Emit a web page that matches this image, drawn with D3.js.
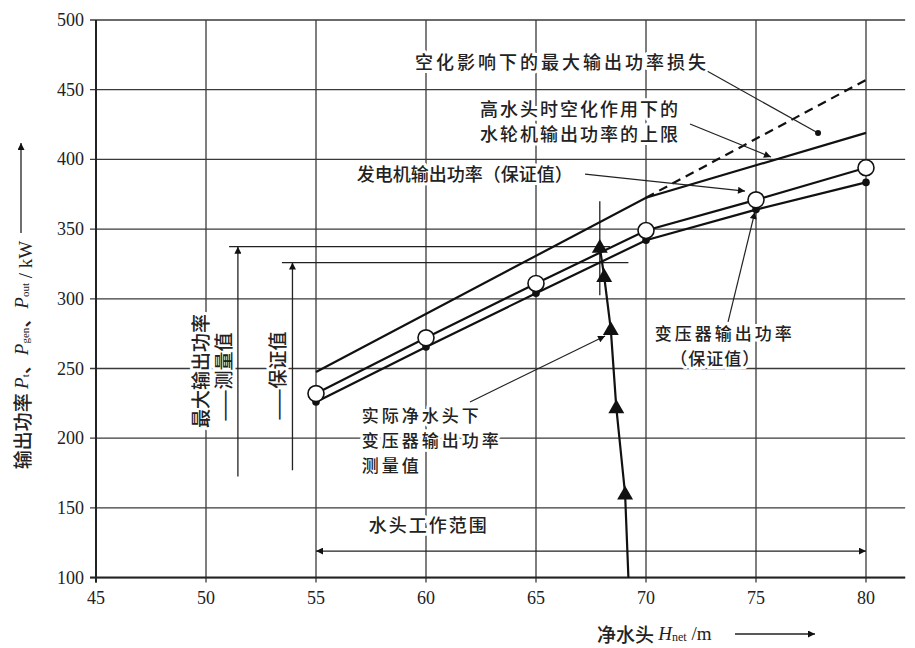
<!DOCTYPE html>
<html>
<head>
<meta charset="utf-8">
<script src="https://cdn.jsdelivr.net/npm/d3@7"></script>
<style>
  body { margin: 0; background: #fff; }
  svg { display: block; }
  .cn { font-family: "Noto Sans CJK SC", sans-serif; font-weight: 500; }
  .num { font-family: "Liberation Serif", "DejaVu Serif", serif; }
</style>
</head>
<body>
<div id="chart"></div>
<script>
// values
var heads = [55, 60, 65, 70, 75, 80];
var genGuaranteed = [232, 272, 311, 349, 371, 394];
var trafoGuaranteed = [226, 265.5, 304, 342, 364, 383.5];
var limitHeads = [55, 70, 80];
var turbineLimit = [247.5, 372.5, 419];
var lossHeads = [70, 80];
var lossLimit = [372.5, 457];
var measuredHeads = [67.9, 68.1, 68.4, 68.65, 69.05, 69.2];
var measuredOut = [337, 316, 278, 222, 160, 100];
var maxMeasured = 337.4;
var guaranteed = 326;
var xTicks = [45, 50, 55, 60, 65, 70, 75, 80];
var yTicks = [100, 150, 200, 250, 300, 350, 400, 450, 500];

var width = 915, height = 648;

var svg = d3.select("#chart").append("svg")
    .attr("width", width)
    .attr("height", height);

var x = d3.scaleLinear().domain([45, 80]).range([96, 866]);
var y = d3.scaleLinear().domain([100, 500]).range([577.6, 20]);
var xEnd = x(81.78);

var defs = svg.append("defs");
defs.append("marker")
    .attr("id", "arr")
    .attr("viewBox", "0 0 10 10")
    .attr("refX", 10).attr("refY", 5)
    .attr("markerWidth", 12).attr("markerHeight", 7)
    .attr("markerUnits", "userSpaceOnUse")
    .attr("orient", "auto-start-reverse")
  .append("path")
    .attr("d", "M0,0L10,5L0,10Z")
    .attr("fill", "#111");

// grid
var grid = svg.append("g").attr("stroke", "#3a3a3a").attr("stroke-width", 1.3);
grid.selectAll(".vg").data(xTicks).enter().append("line")
    .attr("x1", function(d) { return x(d); })
    .attr("x2", function(d) { return x(d); })
    .attr("y1", y(500))
    .attr("y2", y(100) + 5);
grid.selectAll(".hg").data(yTicks).enter().append("line")
    .attr("x1", x(45) - 6)
    .attr("x2", xEnd)
    .attr("y1", function(d) { return y(d); })
    .attr("y2", function(d) { return y(d); });
svg.append("line").attr("x1", x(45)).attr("x2", x(45)).attr("y1", y(500)).attr("y2", y(100) + 5)
    .attr("stroke", "#222").attr("stroke-width", 2);
svg.append("line").attr("x1", x(45) - 6).attr("x2", xEnd).attr("y1", y(100)).attr("y2", y(100))
    .attr("stroke", "#222").attr("stroke-width", 2);

// tick labels
svg.selectAll(".yl").data(yTicks).enter().append("text")
    .attr("class", "num")
    .attr("x", x(45) - 12)
    .attr("y", function(d) { return y(d) + 6; })
    .attr("text-anchor", "end")
    .attr("font-size", 18)
    .attr("fill", "#222")
    .text(function(d) { return d; });
svg.selectAll(".xl").data(xTicks).enter().append("text")
    .attr("class", "num")
    .attr("x", function(d) { return x(d); })
    .attr("y", y(100) + 26)
    .attr("text-anchor", "middle")
    .attr("font-size", 18)
    .attr("fill", "#222")
    .text(function(d) { return d; });

function halo(sel) {
  return sel.attr("stroke", "#fff").attr("stroke-width", 6)
    .attr("stroke-linejoin", "round").attr("paint-order", "stroke");
}

// reference lines for max measured and guaranteed output
var ref = svg.append("g").attr("stroke", "#222").attr("stroke-width", 1.3);
ref.append("line").attr("x1", x(51.05)).attr("x2", x(68.36))
    .attr("y1", y(maxMeasured)).attr("y2", y(maxMeasured));
ref.append("line").attr("x1", x(53.45)).attr("x2", x(69.2))
    .attr("y1", y(guaranteed)).attr("y2", y(guaranteed));
ref.append("line").attr("x1", x(51.45)).attr("x2", x(51.45))
    .attr("y1", y(172.5)).attr("y2", y(maxMeasured))
    .attr("marker-end", "url(#arr)");
ref.append("line").attr("x1", x(53.93)).attr("x2", x(53.93))
    .attr("y1", y(177)).attr("y2", y(guaranteed))
    .attr("marker-end", "url(#arr)");
ref.append("line").attr("x1", x(67.9)).attr("x2", x(67.9))
    .attr("y1", y(370)).attr("y2", y(302.5));

// work range
svg.append("line")
    .attr("x1", x(55)).attr("x2", x(80))
    .attr("y1", y(119)).attr("y2", y(119))
    .attr("stroke", "#222").attr("stroke-width", 1.3)
    .attr("marker-start", "url(#arr)")
    .attr("marker-end", "url(#arr)");

// rotated labels on the left
function vtext(cx, cy, str) {
  halo(svg.append("text")
    .attr("class", "cn")
    .attr("transform", "translate(" + cx + "," + cy + ") rotate(-90)")
    .attr("text-anchor", "middle")
    .attr("dominant-baseline", "central")
    .attr("font-size", 19)
    .attr("fill", "#222"))
    .text(str);
}
vtext(199, 371, "最大输出功率");
vtext(222, 377, "——测量值");
vtext(276, 376, "——保证值");

// curves
var line = d3.line()
    .x(function(d) { return x(d[0]); })
    .y(function(d) { return y(d[1]); });

var curves = svg.append("g").attr("fill", "none").attr("stroke", "#111").attr("stroke-width", 2.2);
curves.append("path").attr("d", line(d3.zip(limitHeads, turbineLimit)));
curves.append("path").attr("d", line(d3.zip(lossHeads, lossLimit)))
    .attr("stroke-dasharray", "9,6");
curves.append("path").attr("d", line(d3.zip(heads, genGuaranteed)));
curves.append("path").attr("d", line(d3.zip(heads, trafoGuaranteed)));
curves.append("path").attr("d", line(d3.zip(measuredHeads, measuredOut)));

svg.selectAll(".dot").data(d3.zip(heads, trafoGuaranteed)).enter().append("circle")
    .attr("cx", function(d) { return x(d[0]); })
    .attr("cy", function(d) { return y(d[1]); })
    .attr("r", 3.8)
    .attr("fill", "#111");
svg.selectAll(".ring").data(d3.zip(heads, genGuaranteed)).enter().append("circle")
    .attr("cx", function(d) { return x(d[0]); })
    .attr("cy", function(d) { return y(d[1]); })
    .attr("r", 8)
    .attr("fill", "#fff")
    .attr("stroke", "#111")
    .attr("stroke-width", 1.6);
var tri = d3.symbol().type(d3.symbolTriangle).size(110);
svg.selectAll(".tri").data(d3.zip(measuredHeads, measuredOut).slice(0, 5)).enter().append("path")
    .attr("d", tri)
    .attr("transform", function(d) { return "translate(" + x(d[0]) + "," + (y(d[1]) + 1) + ")"; })
    .attr("fill", "#111");

// annotations
var leaders = [
  {from: [72.45, 466.3], to: [77.82, 418.9], dot: true},
  {from: [72.0, 425.4], to: [75.68, 401.7]},
  {from: [67.23, 389.5], to: [74.5, 377.3]},
  {from: [73.73, 283.4], to: [74.95, 362.3]},
  {from: [62.0, 226], to: [68.14, 273.3]}
];
leaders.forEach(function(l) {
  var s = svg.append("line")
    .attr("x1", x(l.from[0])).attr("y1", y(l.from[1]))
    .attr("x2", x(l.to[0])).attr("y2", y(l.to[1]))
    .attr("stroke", "#222").attr("stroke-width", 1.2);
  if (l.dot) {
    svg.append("circle").attr("cx", x(l.to[0])).attr("cy", y(l.to[1]))
      .attr("r", 3).attr("fill", "#111");
  } else {
    s.attr("marker-end", "url(#arr)");
  }
});

var notes = [
  {t: "空化影响下的最大输出功率损失", at: [59.5, 470.5], a: "start", ls: 3, fs: 18},
  {t: "高水头时空化作用下的", at: [62.45, 437], a: "start", ls: 2, fs: 18},
  {t: "水轮机输出功率的上限", at: [62.45, 419], a: "start", ls: 2, fs: 18},
  {t: "发电机输出功率（保证值）", at: [56.85, 390], a: "start", ls: 0, fs: 18},
  {t: "变压器输出功率", at: [70.4, 276], a: "start", ls: 3, fs: 17},
  {t: "（保证值）", at: [73.15, 258], a: "middle", ls: 1, fs: 17},
  {t: "实际净水头下", at: [57.08, 216.8], a: "start", ls: 3, fs: 17},
  {t: "变压器输出功率", at: [57.08, 198.8], a: "start", ls: 3, fs: 17},
  {t: "测量值", at: [57.08, 180.8], a: "start", ls: 3, fs: 17},
  {t: "水头工作范围", at: [57.4, 138.5], a: "start", ls: 2, fs: 18}
];
notes.forEach(function(n) {
  halo(svg.append("text")
    .attr("class", "cn")
    .attr("x", x(n.at[0]))
    .attr("y", y(n.at[1]))
    .attr("dominant-baseline", "central")
    .attr("text-anchor", n.a)
    .attr("font-size", n.fs)
    .attr("letter-spacing", n.ls)
    .attr("fill", "#222"))
    .text(n.t);
});

// y axis title
var yt = svg.append("text")
    .attr("transform", "translate(21,355) rotate(-90)")
    .attr("text-anchor", "middle")
    .attr("dominant-baseline", "central")
    .attr("font-size", 19)
    .attr("fill", "#222");
yt.append("tspan").attr("class", "cn").text("输出功率 ");
[["t", "、"], ["gen", "、"], ["out", ""]].forEach(function(p) {
  yt.append("tspan").attr("class", "num").attr("font-style", "italic").text("P");
  yt.append("tspan").attr("class", "num").attr("font-size", 11).attr("dy", 4).text(p[0]);
  yt.append("tspan").attr("class", "cn").attr("dy", -4).text(p[1]);
});
yt.append("tspan").attr("class", "num").text(" / kW");
svg.append("line").attr("x1", 21).attr("x2", 21).attr("y1", 233).attr("y2", 143)
    .attr("stroke", "#222").attr("stroke-width", 1.3).attr("marker-end", "url(#arr)");

// x axis title
var xt = svg.append("text")
    .attr("x", 597).attr("y", 633)
    .attr("dominant-baseline", "central")
    .attr("font-size", 19)
    .attr("fill", "#222");
xt.append("tspan").attr("class", "cn").text("净水头 ");
xt.append("tspan").attr("class", "num").attr("font-style", "italic").text("H");
xt.append("tspan").attr("class", "num").attr("font-size", 12).attr("dy", 4).text("net");
xt.append("tspan").attr("class", "num").attr("dy", -4).text(" /m");
svg.append("line").attr("x1", 735).attr("x2", 815).attr("y1", 634).attr("y2", 634)
    .attr("stroke", "#222").attr("stroke-width", 1.3).attr("marker-end", "url(#arr)");
</script>
</body>
</html>
